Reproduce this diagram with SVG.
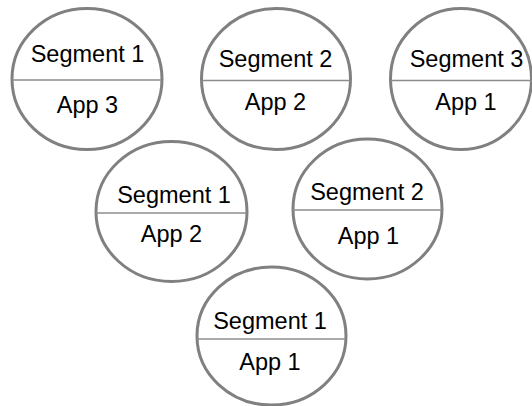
<svg xmlns="http://www.w3.org/2000/svg" width="532" height="406" viewBox="0 0 532 406">
<style>
.ring{fill:#ffffff;stroke:#808080;stroke-width:3}
.div{stroke:#8c8c8c;stroke-width:1.5}
.t{font-family:"Liberation Sans",Arial,sans-serif;font-size:23.5px;fill:#000000;text-anchor:middle}
</style>
<rect width="532" height="406" fill="#ffffff"/>
<g id="connectors"></g>
<g id="n1">
<ellipse class="ring" cx="87" cy="79" rx="75" ry="70.5"/>
<line class="div" x1="12" y1="80" x2="162" y2="80"/>
<text class="t" x="87.5" y="61.5">Segment 1</text>
<text class="t" x="87.5" y="113">App 3</text>
</g>
<g id="n2">
<ellipse class="ring" cx="276" cy="79" rx="74.5" ry="70.5"/>
<line class="div" x1="201.5" y1="80.5" x2="350.5" y2="80.5"/>
<text class="t" x="275.5" y="67">Segment 2</text>
<text class="t" x="275.5" y="110">App 2</text>
</g>
<g id="n3">
<ellipse class="ring" cx="461" cy="79" rx="70.5" ry="70.5"/>
<line class="div" x1="390.5" y1="80.5" x2="532" y2="80.5"/>
<text class="t" x="466.5" y="67">Segment 3</text>
<text class="t" x="466" y="110">App 1</text>
</g>
<g id="n4">
<ellipse class="ring" cx="171.5" cy="211.5" rx="75.5" ry="70"/>
<line class="div" x1="96" y1="213" x2="247" y2="213"/>
<text class="t" x="174" y="202.5">Segment 1</text>
<text class="t" x="171.5" y="241.5">App 2</text>
</g>
<g id="n5">
<ellipse class="ring" cx="367.5" cy="209" rx="74.5" ry="70"/>
<line class="div" x1="293" y1="210" x2="442" y2="210"/>
<text class="t" x="367" y="200">Segment 2</text>
<text class="t" x="368.5" y="244">App 1</text>
</g>
<g id="n6">
<ellipse class="ring" cx="271.5" cy="336" rx="74.5" ry="69"/>
<line class="div" x1="197" y1="339" x2="346" y2="339"/>
<text class="t" x="270" y="329">Segment 1</text>
<text class="t" x="270" y="370">App 1</text>
</g>
</svg>
